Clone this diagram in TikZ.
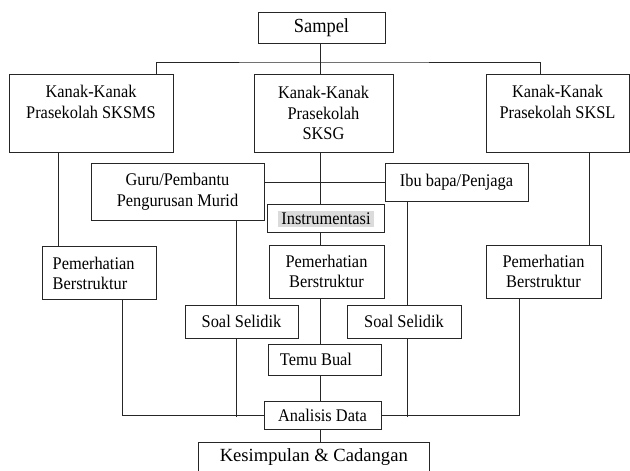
\documentclass[tikz,border=0pt]{standalone}
\usepackage{fontspec}
\setmainfont[FakeStretch=0.92]{Liberation Serif}
\newfontfamily\widefont{Liberation Serif}
\begin{document}
\begin{tikzpicture}[x=1pt,y=-1pt,
  box/.style={draw=black!85,line width=0.9pt,inner sep=0pt,outer sep=0pt,rectangle},
  txt/.style={align=center,inner sep=0pt,font=\fontsize{17.8}{20.8}\selectfont},
  ln/.style={draw=black!85,line width=0.9pt}]
\useasboundingbox (0,0) rectangle (630,471);
% boxes
\node[box,txt,font=\fontsize{20}{22}\selectfont,minimum width=127pt,minimum height=31pt] (sampel) at (321.5,27.5) {Sampel};
\node[box,minimum width=164pt,minimum height=78pt] (kl) at (91,113) {};
\node[txt] (klt) at (91,102) {Kanak-Kanak\\Prasekolah SKSMS};
\node[box,txt,minimum width=139pt,minimum height=78pt] (km) at (323.5,113) {Kanak-Kanak\\Prasekolah\\SKSG};
\node[box,minimum width=143pt,minimum height=78pt] (kr) at (557.5,113) {};
\node[txt] (krt) at (557.5,102) {Kanak-Kanak\\Prasekolah SKSL};
\node[box,txt,minimum width=173pt,minimum height=57pt] (guru) at (177.5,191.5) {Guru/Pembantu\\Pengurusan Murid};
\node[box,txt,minimum width=143pt,minimum height=38pt] (ibu) at (456.5,182) {Ibu bapa/Penjaga};
\node[box,minimum width=117pt,minimum height=28pt] (instr) at (325.5,218) {};
\node[txt,fill=black!14,minimum width=96pt,minimum height=16.5pt] (instrt) at (326,219) {Instrumentasi};
\node[box,minimum width=114pt,minimum height=53pt] (pl) at (99,272.5) {};
\node[txt,align=left,anchor=west] (plt) at (52.5,273.5) {Pemerhatian\\Berstruktur};
\node[box,txt,minimum width=115pt,minimum height=53pt] (pm) at (326.5,271.5) {Pemerhatian\\Berstruktur};
\node[box,txt,minimum width=115pt,minimum height=53pt] (pr) at (543.5,271.5) {Pemerhatian\\Berstruktur};
\node[box,txt,minimum width=113pt,minimum height=33pt] (sl) at (241.5,321.5) {Soal Selidik};
\node[box,txt,minimum width=114pt,minimum height=33pt] (sr) at (404,321.5) {Soal Selidik};
\node[box,minimum width=113pt,minimum height=31pt] (temu) at (324.5,359.5) {};
\node[txt] (temut) at (316,359.5) {Temu Bual};
\node[box,txt,minimum width=117pt,minimum height=28pt] (anal) at (322.5,415) {Analisis Data};
\node[box,minimum width=231pt,minimum height=34pt] (kes) at (313.8,459) {};
\node[txt,font=\widefont\fontsize{18.6}{22}\selectfont] (kest) at (313.8,457.5) {Kesimpulan \& Cadangan};
% connectors
\coordinate (top) at (320,62);
\draw[ln] (sampel.south -| top) -- (top);
\draw[ln] (kl.north -| 156,0) |- (top) -| (kr.north -| 540,0);
\draw[ln] (top) -- (km.north -| top);
\draw[ln] (km.south -| top) -- (instr.north -| top);
\draw[ln] (instr.south -| top) -- (pm.north -| top);
\draw[ln] (pm.south -| top) -- (temu.north -| top);
\draw[ln] (temu.south -| top) -- (anal.north -| top);
\draw[ln] (anal.south -| top) -- (kes.north -| top);
\draw[ln] (kl.south -| 58,0) -- (pl.north -| 58,0);
\draw[ln] (kr.south -| 589,0) -- (pr.north -| 589,0);
\draw[ln] (guru.east |- ibu.west) -- (ibu.west);
\draw[ln] (guru.south -| 236,0) -- (sl.north -| 236,0);
\draw[ln] (ibu.south -| 407,0) -- (sr.north -| 407,0);
\draw[ln] (pl.south -| 122,0) |- (anal.west);
\draw[ln] (pr.south -| 519,0) |- (anal.east);
\draw[ln] (sl.south -| 236,0) -- (236,417);
\draw[ln] (sr.south -| 407,0) -- (407,417);
\end{tikzpicture}
\end{document}
